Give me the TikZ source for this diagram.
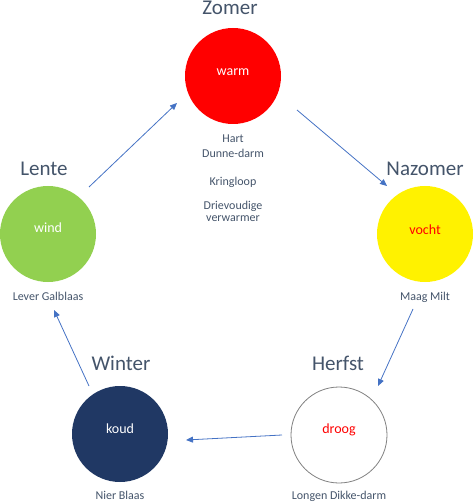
\documentclass[tikz,border=0pt]{standalone}
\usepackage{fontspec}
\setmainfont{Carlito}
\usetikzlibrary{arrows.meta}
\definecolor{txt}{HTML}{44546A}
\definecolor{arr}{HTML}{4472C4}
\definecolor{navy}{HTML}{203864}
\definecolor{green}{HTML}{92D050}
\begin{document}
\begin{tikzpicture}[x=1pt,y=-1pt,
  season/.style={circle,minimum size=96pt,inner sep=0pt},
  seasonlbl/.style={anchor=base,text=txt,font=\fontsize{21}{25}\selectfont,inner sep=0pt},
  qual/.style={anchor=base,font=\fontsize{14}{17}\selectfont,inner sep=0pt},
  organ/.style={anchor=base,text=txt,font=\fontsize{12}{15}\selectfont,inner sep=0pt,align=center},
  flow/.style={draw=arr,line width=0.8pt,-{Triangle[length=7pt,width=6pt]}}]
\useasboundingbox (0,0) rectangle (474,502);
% circles
\node[season,fill=red] (zomer) at (233,76) {};
\node[season,fill=green] (lente) at (48,234) {};
\node[season,fill=yellow] (nazomer) at (425,234) {};
\node[season,fill=navy] (winter) at (120,434) {};
\node[season,draw=gray,line width=0.8pt,fill=white] (herfst) at (339,435) {};
% season labels
\node[seasonlbl] (lZomer) at (230,15) {Zomer};
\node[seasonlbl] (lLente) at (44,176) {Lente};
\node[seasonlbl] (lNazomer) at (425,176) {Nazomer};
\node[seasonlbl] (lWinter) at (121,370) {Winter};
\node[seasonlbl] (lHerfst) at (338,370) {Herfst};
% qualities
\node[qual,text=white] (qWarm) at (233,76) {warm};
\node[qual,text=white] (qWind) at (48,233) {wind};
\node[qual,text=red] (qVocht) at (425,234) {vocht};
\node[qual,text=white] (qKoud) at (120,433) {koud};
\node[qual,text=red] (qDroog) at (339,433) {droog};
% organs
\node[organ] (oHart) at (233,143) {Hart};
\node[organ] (oDunne) at (233,158) {Dunne-darm};
\node[organ] (oKring) at (233,186) {Kringloop};
\node[organ] (oDrie) at (233,210) {Drievoudige};
\node[organ] (oVerw) at (233,222) {verwarmer};
\node[organ] (oLever) at (48,300) {Lever Galblaas};
\node[organ] (oMaag) at (425,300) {Maag Milt};
\node[organ] (oNier) at (120,499) {Nier Blaas};
\node[organ] (oLongen) at (339,499) {Longen Dikke-darm};
% connector end points
\coordinate (a1s) at (89,187);  \coordinate (a1e) at (177,103);
\coordinate (a2s) at (297,110); \coordinate (a2e) at (387,186);
\coordinate (a3s) at (413,309); \coordinate (a3e) at (378,386);
\coordinate (a4s) at (282,435); \coordinate (a4e) at (186,440);
\coordinate (a5s) at (89,386);  \coordinate (a5e) at (54,310);
\draw[flow] (a1s) -- (a1e);
\draw[flow] (a2s) -- (a2e);
\draw[flow] (a3s) -- (a3e);
\draw[flow] (a4s) -- (a4e);
\draw[flow] (a5s) -- (a5e);
\end{tikzpicture}
\end{document}
